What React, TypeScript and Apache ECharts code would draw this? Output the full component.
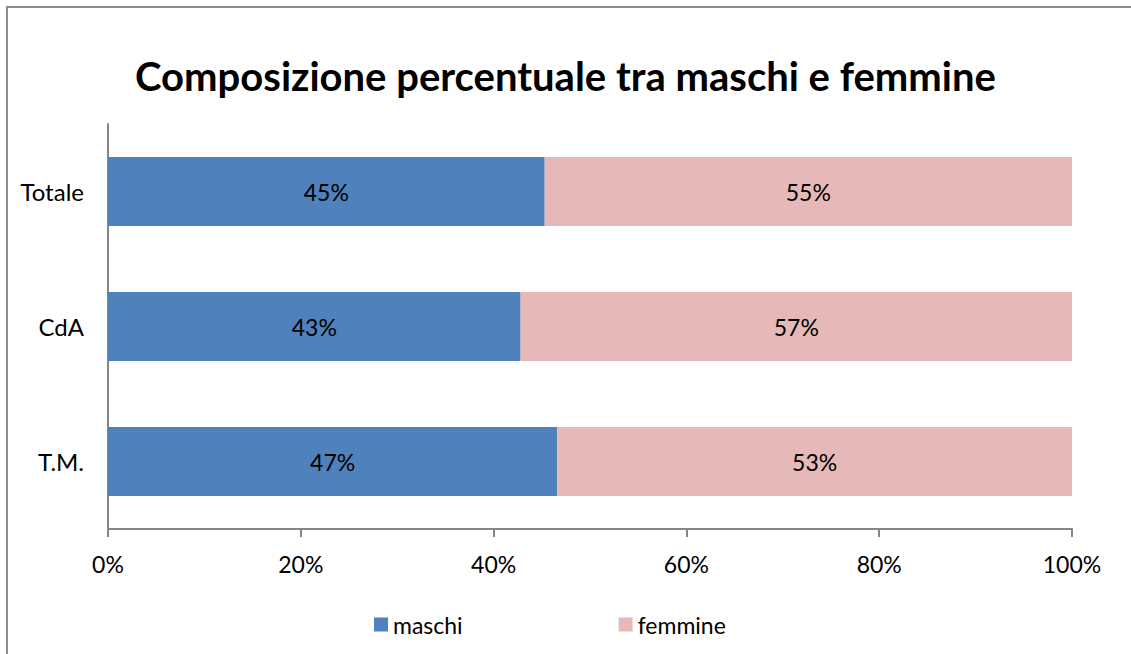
import React, { useEffect, useRef } from "react";
import * as echarts from "echarts";

const categories = ["T.M.", "CdA", "Totale"];
const maschi = [46.6, 42.8, 45.3];
const femmine = [53.4, 57.2, 54.7];
const xTicks = [0, 20, 40, 60, 80, 100];

const FONT = "Lato, 'Noto Sans', sans-serif";

export default function App() {
  const ref = useRef<HTMLDivElement>(null);
  useEffect(() => {
    if (!ref.current) return;
    document.body.style.margin = "0";
    document.documentElement.style.overflow = "hidden";
    document.body.style.overflow = "hidden";
    const chart = echarts.init(ref.current, undefined, { renderer: "svg" });
    chart.setOption({
      animation: false,
      backgroundColor: "#ffffff",
      textStyle: { fontFamily: FONT },
      title: {
        text: "Composizione percentuale tra maschi e femmine",
        left: "center",
        top: 51,
        textStyle: { fontSize: 40, fontWeight: "bold", color: "#000", fontFamily: FONT },
      },
      graphic: [
        {
          type: "line",
          shape: { x1: 6, y1: 7, x2: 1131, y2: 7 },
          style: { stroke: "#8c8c8c", lineWidth: 2 },
          silent: true,
        },
        {
          type: "line",
          shape: { x1: 7, y1: 6, x2: 7, y2: 654 },
          style: { stroke: "#8c8c8c", lineWidth: 2 },
          silent: true,
        },
      ],
      legend: {
        left: 369,
        top: 608,
        itemWidth: 14,
        itemHeight: 14,
        itemGap: 156,
        icon: "rect",
        textStyle: { fontSize: 23, color: "#000", fontFamily: FONT },
        data: ["maschi", "femmine"],
      },
      grid: { left: 108, right: 59, top: 124, bottom: 125, containLabel: false },
      xAxis: {
        type: "value",
        min: xTicks[0],
        max: xTicks[xTicks.length - 1],
        interval: 20,
        axisLine: { show: true, lineStyle: { color: "#868686", width: 2 } },
        axisTick: { show: true, length: 8, lineStyle: { color: "#868686", width: 2 } },
        splitLine: { show: false },
        axisLabel: { formatter: "{value}%", fontSize: 23, color: "#000", margin: 23, fontFamily: FONT },
      },
      yAxis: {
        type: "category",
        data: categories,
        axisLine: { show: true, lineStyle: { color: "#868686", width: 2 } },
        axisTick: { show: false },
        axisLabel: { fontSize: 24, color: "#000", margin: 24, fontFamily: FONT },
      },
      series: [
        {
          name: "maschi",
          type: "bar",
          stack: "tot",
          data: maschi,
          barWidth: 69,
          itemStyle: { color: "#4F81BD" },
          label: {
            show: true,
            position: "inside",
            color: "#000",
            fontSize: 23,
            fontFamily: FONT,
            formatter: (p: any) => Math.round(p.value) + "%",
          },
        },
        {
          name: "femmine",
          type: "bar",
          stack: "tot",
          data: femmine,
          barWidth: 69,
          itemStyle: { color: "#E6B9B8" },
          label: {
            show: true,
            position: "inside",
            color: "#000",
            fontSize: 23,
            fontFamily: FONT,
            formatter: (p: any) => Math.round(p.value) + "%",
          },
        },
      ],
    });
    return () => chart.dispose();
  }, []);
  return <div ref={ref} style={{ width: 1131, height: 654 }} />;
}
